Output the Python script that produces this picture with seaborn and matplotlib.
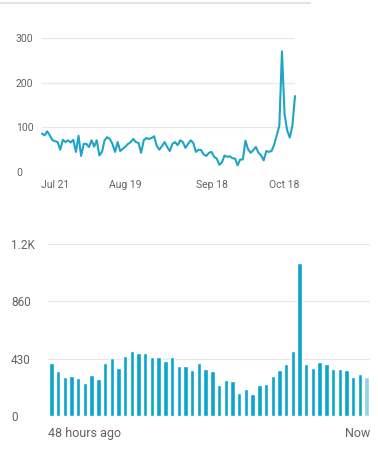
import numpy as np
import pandas as pd
import matplotlib
matplotlib.use("Agg")
import matplotlib.pyplot as plt
import seaborn as sns

# ---- Data: daily values (top chart) ----
daily_values = [86, 82, 91, 82, 71, 69, 67, 50, 72, 67, 71, 66, 72, 45, 81, 36, 63, 63,
                56, 71, 57, 71, 37, 45, 71, 78, 74, 63, 45, 67, 47, 52, 57, 63, 67, 74,
                67, 65, 43, 71, 76, 74, 76, 80, 58, 50, 58, 67, 56, 47, 63, 67, 60, 71,
                67, 54, 63, 71, 65, 45, 50, 49, 39, 36, 43, 45, 34, 30, 16, 22, 37, 34,
                35, 31, 30, 15, 28, 28, 70, 51, 43, 49, 56, 43, 37, 26, 47, 45, 47, 61,
                82, 104, 270, 129, 93, 77, 104, 170]
daily_tick_index = [5, 32, 65, 93]
daily_tick_labels = ["Jul 21", "Aug 19", "Sep 18", "Oct 18"]
daily_yticks = [0, 100, 200, 300]

# ---- Data: hourly values (bottom chart, last 48 hours) ----
hourly_values = [400, 338, 293, 298, 286, 249, 311, 278, 398, 438, 363, 450, 490, 475,
                 475, 445, 440, 410, 440, 378, 373, 343, 400, 350, 338, 236, 271, 259,
                 169, 201, 167, 229, 239, 298, 346, 393, 490, 1146, 393, 358, 408, 388,
                 353, 353, 346, 296, 316, 291]
hourly_yticks = [0, 430, 860, 1290]
hourly_ytick_labels = ["0", "430", "860", "1.2K"]
hourly_x_labels = ["48 hours ago", "Now"]

LINE = "#1fa4c6"
BAR = "#0aa5cc"
BAR_LIGHT = "#8fd4e3"
GRID = "#e8e8e8"
TXT = "#626262"

sns.set_theme(style="white")
plt.rcParams["font.family"] = ["Roboto", "DejaVu Sans"]

fig = plt.figure(figsize=(3.78, 4.5), dpi=100)
W, H = 378, 450

def box(l, r, t, b):
    return [l / W, 1 - b / H, (r - l) / W, (b - t) / H]

# ---------------- Top chart ----------------
ax1 = fig.add_axes(box(42, 295, 38, 172))
df1 = pd.DataFrame({"idx": np.arange(len(daily_values)), "value": daily_values})
sns.lineplot(data=df1, x="idx", y="value", ax=ax1, color=LINE, linewidth=1.5)
ax1.set_xlim(0, len(daily_values) - 1)
ax1.set_ylim(0, 300)
ax1.set_yticks(daily_yticks)
ax1.set_yticklabels([str(v) for v in daily_yticks], ha="left")
ax1.set_xticks(daily_tick_index)
ax1.set_xticklabels(daily_tick_labels)
ax1.tick_params(axis="y", length=0, pad=26 * 72 / 100, labelsize=7.5, labelcolor=TXT)
ax1.tick_params(axis="x", length=0, pad=6, labelsize=7.5, labelcolor=TXT)
ax1.grid(axis="y", color=GRID, linewidth=0.9)
ax1.set_axisbelow(True)
for s in ax1.spines.values():
    s.set_visible(False)
ax1.set_xlabel("")
ax1.set_ylabel("")
for ln in ax1.lines:
    ln.set_clip_on(False)

# ---------------- Bottom chart ----------------
ax2 = fig.add_axes(box(48, 370, 244, 416))
df2 = pd.DataFrame({"hour": np.arange(len(hourly_values)), "value": hourly_values})
palette = [BAR] * (len(hourly_values) - 1) + [BAR_LIGHT]
sns.barplot(data=df2, x="hour", y="value", hue="hour", palette=palette,
            legend=False, ax=ax2, width=0.66, saturation=1)
ax2.set_xlim(-0.5, len(hourly_values) - 0.5)
ax2.set_ylim(0, 1290)
ax2.set_yticks(hourly_yticks)
ax2.set_yticklabels(hourly_ytick_labels, ha="left")
ax2.tick_params(axis="y", length=0, pad=37 * 72 / 100, labelsize=8.5, labelcolor=TXT)
ax2.set_xticks([])
ax2.grid(axis="y", color=GRID, linewidth=0.9)
ax2.set_axisbelow(True)
for s in ax2.spines.values():
    s.set_visible(False)
ax2.set_xlabel("")
ax2.set_ylabel("")
ax2.text(0.0, -0.1, hourly_x_labels[0], transform=ax2.transAxes, ha="left",
         va="center", fontsize=9, color=TXT)
ax2.text(1.0, -0.1, hourly_x_labels[1], transform=ax2.transAxes, ha="right",
         va="center", fontsize=9, color=TXT)

# card border at top
fig.add_artist(plt.Line2D([0, 310 / W], [1 - 3 / H, 1 - 3 / H], color="#e4e4e4",
                          linewidth=1.5, transform=fig.transFigure))

fig.savefig("out.png", dpi=100, facecolor="white")
